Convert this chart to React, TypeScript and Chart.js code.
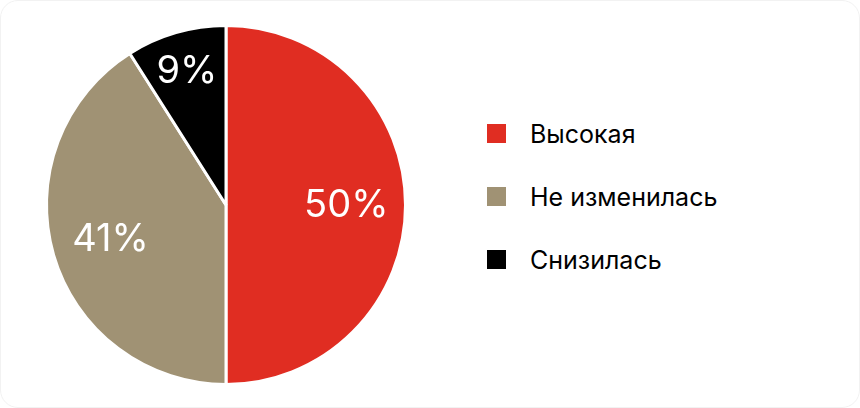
import { useEffect, useRef } from "react";
import Chart from "chart.js/auto";

const labels = ["Высокая", "Не изменилась", "Снизилась"];
const values = [50, 41, 9];
const colors = ["#E02D22", "#A09274", "#000000"];
const valueLabels = ["50%", "41%", "9%"];

const FONT = "Inter, 'Noto Sans', sans-serif";

export default function App() {
  const canvasRef = useRef<HTMLCanvasElement>(null);
  const chartRef = useRef<any>(null);

  useEffect(() => {
    document.body.style.margin = "0";
    if (!canvasRef.current) return;
    const ctx = canvasRef.current.getContext("2d");
    if (!ctx) return;
    if (chartRef.current) chartRef.current.destroy();

    const sliceLabels = {
      id: "sliceLabels",
      afterDatasetsDraw(chart: any) {
        const c = chart.ctx;
        const meta = chart.getDatasetMeta(0);
        c.save();
        c.fillStyle = "#ffffff";
        c.font = `400 38px ${FONT}`;
        c.textAlign = "center";
        c.textBaseline = "middle";
        meta.data.forEach((arc: any, i: number) => {
          const { x, y, startAngle, endAngle, outerRadius } = arc.getProps(
            ["x", "y", "startAngle", "endAngle", "outerRadius"],
            true
          );
          const mid = (startAngle + endAngle) / 2;
          const f = values[i] < 15 ? 0.78 : 0.67;
          c.fillText(
            valueLabels[i],
            x + Math.cos(mid) * outerRadius * f,
            y + Math.sin(mid) * outerRadius * f + 1
          );
        });
        c.restore();
      },
    };

    chartRef.current = new Chart(ctx, {
      type: "pie",
      data: {
        labels,
        datasets: [
          {
            data: values,
            backgroundColor: colors,
            borderColor: "#ffffff",
            borderWidth: 3,
          },
        ],
      },
      options: {
        responsive: true,
        maintainAspectRatio: false,
        animation: false,
        layout: { padding: { top: 23, bottom: 23 } },
        plugins: {
          legend: { display: false },
          tooltip: { enabled: false },
        },
      },
      plugins: [sliceLabels],
    });

    return () => chartRef.current?.destroy();
  }, []);

  return (
    <div
      style={{
        position: "relative",
        width: 860,
        height: 408,
        boxSizing: "border-box",
        border: "1px solid #f2f2f2",
        borderRadius: 18,
        background: "#ffffff",
        fontFamily: FONT,
        overflow: "hidden",
      }}
    >
      <div style={{ position: "absolute", left: 0, top: 0, width: 450, height: 408 }}>
        <canvas ref={canvasRef} />
      </div>
      {labels.map((l, i) => (
        <div
          key={l}
          style={{
            position: "absolute",
            left: 486,
            top: 132.5 + i * 63 - 20,
            height: 40,
            display: "flex",
            alignItems: "center",
            fontSize: 25,
            color: "#000000",
            whiteSpace: "nowrap",
          }}
        >
          <span
            style={{
              display: "inline-block",
              width: 19,
              height: 19,
              background: colors[i],
              marginRight: 24,
            }}
          />
          {l}
        </div>
      ))}
    </div>
  );
}
